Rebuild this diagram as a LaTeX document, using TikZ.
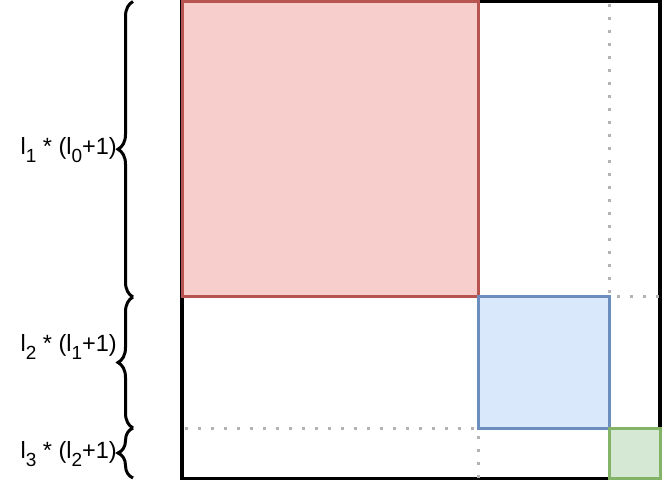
\documentclass[tikz,border=0pt]{standalone}
\usepackage{fontspec}
\setmainfont{Liberation Sans}
\usetikzlibrary{decorations.pathreplacing}
\definecolor{redfill}{HTML}{F8CECC}
\definecolor{redline}{HTML}{B85450}
\definecolor{bluefill}{HTML}{DAE8FC}
\definecolor{blueline}{HTML}{6C8EBF}
\definecolor{greenfill}{HTML}{D5E8D4}
\definecolor{greenline}{HTML}{82B366}
\definecolor{dotgray}{HTML}{B3B3B3}
\newcommand{\sbx}[1]{\raisebox{-0.36em}{\fontsize{19}{19}\selectfont #1}}
\begin{document}
\begin{tikzpicture}[x=1pt,y=-1pt,
  blockbox/.style={line width=3pt},
  dotline/.style={dotgray,line width=3pt,dash pattern=on 3pt off 10pt},
  bracepath/.style={line width=3pt,decorate,decoration={brace,amplitude=15pt,aspect=0.5}},
  lbl/.style={anchor=east,inner sep=0pt,font=\fontsize{23.5}{23.5}\selectfont}]
\useasboundingbox (0,0) rectangle (665,484);
% outer matrix
\draw[line width=3.5pt] (182,1.5) rectangle (660,478.5);
% dotted guides
\draw[dotline] (609,4) -- (609,297);
\draw[dotline] (617,297) -- (660,297);
\draw[dotline] (185,428) -- (478,428);
\draw[dotline] (478,436) -- (478,478);
% blocks
\draw[blockbox,draw=redline,fill=redfill] (182,1.5) rectangle (478,297);
\draw[blockbox,draw=blueline,fill=bluefill] (478,297) rectangle (609,428);
\draw[blockbox,draw=greenline,fill=greenfill] (609,428) rectangle (660,478);
% braces
\coordinate (b1t) at (133,1.5);
\coordinate (b1b) at (133,297);
\coordinate (b2b) at (133,428);
\coordinate (b3b) at (133,478);
\draw[bracepath] (b1b) -- (b1t);
\draw[bracepath] (b2b) -- (b1b);
\draw[bracepath] (b3b) -- (b2b);
% labels
\node[lbl] (l1) at (117,150) {l\sbx{1} * (l\sbx{0}+1)};
\node[lbl] (l2) at (117,347) {l\sbx{2} * (l\sbx{1}+1)};
\node[lbl] (l3) at (117,454) {l\sbx{3} * (l\sbx{2}+1)};
\end{tikzpicture}
\end{document}
